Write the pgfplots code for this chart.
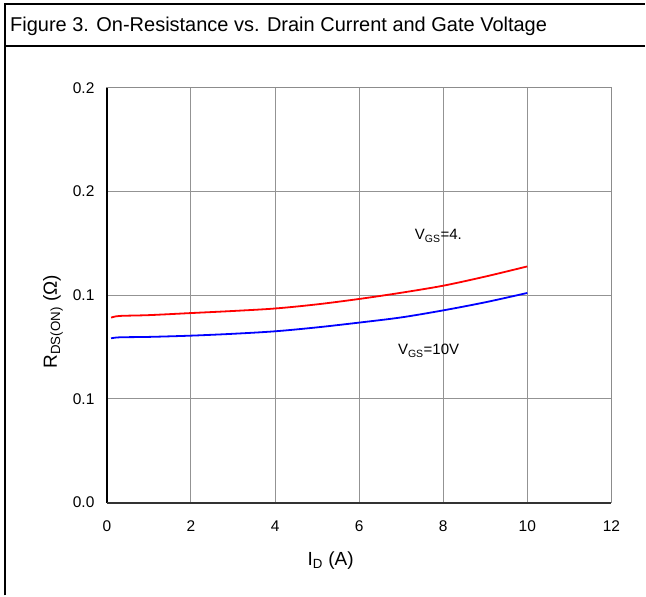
\documentclass[border=0pt]{standalone}
\usepackage{fontspec}
\setmainfont{Liberation Sans}
\usepackage{pgfplots}
\pgfplotsset{compat=1.18}
\begin{document}
\begin{tikzpicture}
% page frame (646 x 596 bp)
\path (0bp,0bp) rectangle (646bp,-596bp);
\draw[line width=1.2bp] (5bp,-596bp) -- (5bp,-4bp) -- (646bp,-4bp);
\draw[line width=1.2bp] (5bp,-46bp) -- (646bp,-46bp);
\node[anchor=base west, inner sep=0pt, font=\fontsize{20bp}{22bp}\selectfont]
  at (10bp,-32bp) {Figure 3. On-Resistance vs. Drain Current and Gate Voltage};
\begin{axis}[
    at={(107bp,-503bp)}, anchor=south west,
    scale only axis, width=505bp, height=415bp,
    xmin=0, xmax=12, ymin=0, ymax=0.2,
    xtick={0,2,...,12},
    ytick={0,0.05,0.1,0.15,0.2},
    yticklabels={0.0,0.1,0.1,0.2,0.2},
    major tick length=0pt,
    grid=major, grid style={gray!85, line width=1bp},
    axis line style={gray!90, line width=1bp},
    ticklabel style={font=\fontsize{15.5bp}{17bp}\selectfont},
    /pgf/number format/assume math mode=true,
    xticklabel style={yshift=-15bp},
    yticklabel style={xshift=-9bp},
    clip=false,
]
\draw[black, line width=1.3bp] (axis cs:0,0) -- (axis cs:0,0.2);
\draw[gray!40!black, line width=2bp] (axis cs:0,0) -- (axis cs:12,0);
\addplot[red, line width=1.8bp, mark=none, smooth] coordinates {
    (0.1,0.0892)(0.3,0.0900)(1,0.0904)(2,0.0914)(3,0.0924)(4,0.0936)
    (5,0.0956)(6,0.0982)(7,0.1012)(8,0.1046)(9,0.1090)(10,0.1139)
};
\addplot[blue, line width=1.8bp, mark=none, smooth] coordinates {
    (0.1,0.0792)(0.3,0.0797)(1,0.0799)(2,0.0805)(3,0.0814)(4,0.0826)
    (5,0.0845)(6,0.0868)(7,0.0893)(8,0.0927)(9,0.0966)(10,0.1011)
};
\node[anchor=base west, inner sep=0pt, font=\fontsize{15bp}{17bp}\selectfont]
  at (axis cs:7.32,0.1267) {V\textsubscript{GS}=4.};
\node[anchor=base west, inner sep=0pt, font=\fontsize{15bp}{17bp}\selectfont]
  at (axis cs:6.92,0.0713) {V\textsubscript{GS}=10V};
\end{axis}
\node[anchor=base, inner sep=0pt, font=\fontsize{19bp}{21bp}\selectfont]
  at (331bp,-566bp) {I\textsubscript{D} (A)};
\node[rotate=90, anchor=base, inner sep=0pt, font=\fontsize{19bp}{21bp}\selectfont]
  at (57bp,-322bp) {R\textsubscript{DS(ON)} (Ω)};
\end{tikzpicture}
\end{document}
